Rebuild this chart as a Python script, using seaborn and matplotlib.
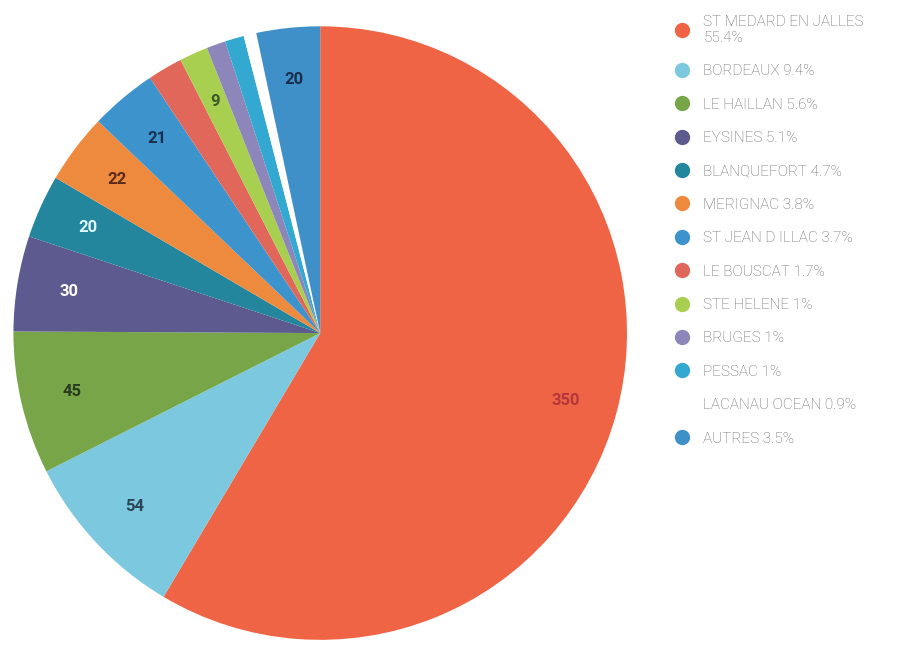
import matplotlib
matplotlib.use('Agg')
import numpy as np
import matplotlib.pyplot as plt
from matplotlib.lines import Line2D
import seaborn as sns

communes = ['ST MEDARD EN JALLES', 'BORDEAUX', 'LE HAILLAN', 'EYSINES', 'BLANQUEFORT',
            'MERIGNAC', 'ST JEAN D ILLAC', 'LE BOUSCAT', 'STE HELENE', 'BRUGES',
            'PESSAC', 'LACANAU OCEAN', 'AUTRES']
effectifs = [350, 54, 45, 30, 20, 22, 21, 11, 9, 6, 6, 4, 20]
legende_pct = ['55.4%', '9.4%', '5.6%', '5.1%', '4.7%', '3.8%', '3.7%',
               '1.7%', '1%', '1%', '1%', '0.9%', '3.5%']
etiquettes = ['350', '54', '45', '30', '20', '22', '21', '', '9', '', '', '', '20']

couleurs = ['#ef6445', '#7cc8de', '#77a548', '#5c5a8e', '#23869c', '#ee8a3e', '#3d93cb',
            '#e0675a', '#a8cf4f', '#8d86ba', '#33a9d2', '#ffffff', '#3f90c9']
couleurs_txt = ['#b4383a', '#2b4557', '#2a3a22', '#ffffff', '#dff6fa', '#5a2a1a',
                '#1c2c4c', '#333333', '#3a5a2a', '#333333', '#333333', '#333333', '#1c2c4c']

sns.set_style('white')
plt.rcParams['font.family'] = ['Roboto', 'DejaVu Sans']

fig = plt.figure(figsize=(8.97, 6.48), dpi=100)
ax = fig.add_axes([0.015, 0.012, 0.684, 0.948])

wedges, texts = ax.pie(effectifs, colors=couleurs, startangle=90, counterclock=False,
                       wedgeprops={'linewidth': 0})
ax.set_xlim(-1, 1)
ax.set_ylim(-1, 1)
ax.set_aspect('equal')

# value labels inside the slices
for w, lab, c in zip(wedges, etiquettes, couleurs_txt):
    if not lab:
        continue
    ang = np.deg2rad((w.theta1 + w.theta2) / 2)
    ax.text(0.83 * np.cos(ang), 0.83 * np.sin(ang), lab, ha='center', va='center',
            fontsize=12, fontweight='bold', color=c)

handles = []
labels = []
for i, (nom, pct, col) in enumerate(zip(communes, legende_pct, couleurs)):
    handles.append(Line2D([], [], marker='o', linestyle='', markersize=10,
                          markerfacecolor=col, markeredgecolor=col))
    if i == 0:
        labels.append(nom + '\n' + pct)
    else:
        labels.append(nom + ' ' + pct)

leg = fig.legend(handles, labels, loc='upper left', bbox_to_anchor=(0.745, 0.987),
                 frameon=False, fontsize=11, labelspacing=1.27, handletextpad=0.9,
                 handlelength=1.0, borderaxespad=0)
for t in leg.get_texts():
    t.set_color('#666666')
    t.set_fontweight('light')

fig.savefig('out.png', dpi=100)
